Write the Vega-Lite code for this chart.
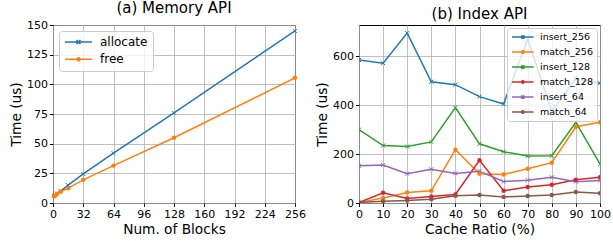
{
  "$schema": "https://vega.github.io/schema/vega-lite/v6.json",
  "padding": {"left": 9, "top": 0, "right": 1, "bottom": 0},
  "background": "white",
  "config": {
    "font": "DejaVu Sans",
    "view": {"stroke": "black", "strokeWidth": 1},
    "axis": {"grid": true, "gridColor": "#b0b0b0", "gridWidth": 0.8, "domain": false, "tickColor": "black", "tickSize": 3.5, "labelColor": "black", "labelFontSize": 11, "titleFontSize": 13.7, "titleFontWeight": "normal", "titleColor": "black", "labelPadding": 2, "titlePadding": 3, "labelFlush": false, "labelOverlap": false},
    "title": {"fontSize": 15, "fontWeight": "normal", "offset": 3, "color": "black"},
    "legend": {"title": null, "fillColor": "rgba(255,255,255,0.8)", "strokeColor": "#cccccc", "cornerRadius": 3, "symbolType": "M-1,0H4.4", "symbolStrokeWidth": 1.5, "labelColor": "black"},
    "concat": {"spacing": 64}
  },
  "bounds": "flush",
  "resolve": {"scale": {"color": "independent"}, "legend": {"color": "independent"}},
  "datasets": {
    "memory": [
      {"blocks": 1, "time": 6, "op": "allocate"},
      {"blocks": 2, "time": 7, "op": "allocate"},
      {"blocks": 4, "time": 8, "op": "allocate"},
      {"blocks": 8, "time": 10, "op": "allocate"},
      {"blocks": 16, "time": 15, "op": "allocate"},
      {"blocks": 32, "time": 24.5, "op": "allocate"},
      {"blocks": 64, "time": 42, "op": "allocate"},
      {"blocks": 128, "time": 76, "op": "allocate"},
      {"blocks": 256, "time": 145, "op": "allocate"},
      {"blocks": 1, "time": 5.5, "op": "free"},
      {"blocks": 2, "time": 6, "op": "free"},
      {"blocks": 4, "time": 7.5, "op": "free"},
      {"blocks": 8, "time": 9.5, "op": "free"},
      {"blocks": 16, "time": 12.5, "op": "free"},
      {"blocks": 32, "time": 19.5, "op": "free"},
      {"blocks": 64, "time": 31.5, "op": "free"},
      {"blocks": 128, "time": 55, "op": "free"},
      {"blocks": 256, "time": 105.5, "op": "free"}
    ],
    "index": [
      {"ratio": 0, "time": 585, "series": "insert_256"},
      {"ratio": 10, "time": 572, "series": "insert_256"},
      {"ratio": 20, "time": 695, "series": "insert_256"},
      {"ratio": 30, "time": 496, "series": "insert_256"},
      {"ratio": 40, "time": 484, "series": "insert_256"},
      {"ratio": 50, "time": 435, "series": "insert_256"},
      {"ratio": 60, "time": 405, "series": "insert_256"},
      {"ratio": 70, "time": 670, "series": "insert_256"},
      {"ratio": 80, "time": 375, "series": "insert_256"},
      {"ratio": 90, "time": 510, "series": "insert_256"},
      {"ratio": 100, "time": 490, "series": "insert_256"},
      {"ratio": 0, "time": 2, "series": "match_256"},
      {"ratio": 10, "time": 20, "series": "match_256"},
      {"ratio": 20, "time": 43, "series": "match_256"},
      {"ratio": 30, "time": 50, "series": "match_256"},
      {"ratio": 40, "time": 218, "series": "match_256"},
      {"ratio": 50, "time": 120, "series": "match_256"},
      {"ratio": 60, "time": 117, "series": "match_256"},
      {"ratio": 70, "time": 140, "series": "match_256"},
      {"ratio": 80, "time": 165, "series": "match_256"},
      {"ratio": 90, "time": 312, "series": "match_256"},
      {"ratio": 100, "time": 330, "series": "match_256"},
      {"ratio": 0, "time": 300, "series": "insert_128"},
      {"ratio": 10, "time": 235, "series": "insert_128"},
      {"ratio": 20, "time": 231, "series": "insert_128"},
      {"ratio": 30, "time": 250, "series": "insert_128"},
      {"ratio": 40, "time": 390, "series": "insert_128"},
      {"ratio": 50, "time": 242, "series": "insert_128"},
      {"ratio": 60, "time": 210, "series": "insert_128"},
      {"ratio": 70, "time": 192, "series": "insert_128"},
      {"ratio": 80, "time": 193, "series": "insert_128"},
      {"ratio": 90, "time": 330, "series": "insert_128"},
      {"ratio": 100, "time": 160, "series": "insert_128"},
      {"ratio": 0, "time": 2, "series": "match_128"},
      {"ratio": 10, "time": 42, "series": "match_128"},
      {"ratio": 20, "time": 18, "series": "match_128"},
      {"ratio": 30, "time": 27, "series": "match_128"},
      {"ratio": 40, "time": 35, "series": "match_128"},
      {"ratio": 50, "time": 175, "series": "match_128"},
      {"ratio": 60, "time": 50, "series": "match_128"},
      {"ratio": 70, "time": 65, "series": "match_128"},
      {"ratio": 80, "time": 75, "series": "match_128"},
      {"ratio": 90, "time": 95, "series": "match_128"},
      {"ratio": 100, "time": 105, "series": "match_128"},
      {"ratio": 0, "time": 152, "series": "insert_64"},
      {"ratio": 10, "time": 155, "series": "insert_64"},
      {"ratio": 20, "time": 120, "series": "insert_64"},
      {"ratio": 30, "time": 138, "series": "insert_64"},
      {"ratio": 40, "time": 121, "series": "insert_64"},
      {"ratio": 50, "time": 130, "series": "insert_64"},
      {"ratio": 60, "time": 88, "series": "insert_64"},
      {"ratio": 70, "time": 93, "series": "insert_64"},
      {"ratio": 80, "time": 105, "series": "insert_64"},
      {"ratio": 90, "time": 87, "series": "insert_64"},
      {"ratio": 100, "time": 92, "series": "insert_64"},
      {"ratio": 0, "time": 2, "series": "match_64"},
      {"ratio": 10, "time": 7, "series": "match_64"},
      {"ratio": 20, "time": 10, "series": "match_64"},
      {"ratio": 30, "time": 15, "series": "match_64"},
      {"ratio": 40, "time": 30, "series": "match_64"},
      {"ratio": 50, "time": 33, "series": "match_64"},
      {"ratio": 60, "time": 25, "series": "match_64"},
      {"ratio": 70, "time": 29, "series": "match_64"},
      {"ratio": 80, "time": 33, "series": "match_64"},
      {"ratio": 90, "time": 45, "series": "match_64"},
      {"ratio": 100, "time": 40, "series": "match_64"}
    ]
  },
  "hconcat": [
    {
      "width": 242,
      "height": 178,
      "title": "(a) Memory API",
      "data": {"name": "memory"},
      "encoding": {
        "x": {"field": "blocks", "type": "quantitative", "scale": {"domain": [0, 256], "nice": false}, "axis": {"values": [0, 32, 64, 96, 128, 160, 192, 224, 256], "title": "Num. of Blocks"}},
        "y": {"field": "time", "type": "quantitative", "scale": {"domain": [0, 150], "nice": false}, "axis": {"values": [0, 25, 50, 75, 100, 125, 150], "title": "Time (us)"}},
        "color": {"field": "op", "type": "nominal", "scale": {"domain": ["allocate", "free"], "range": ["#1f77b4", "#ff7f0e"]}, "legend": {"orient": "top-left", "offset": 6, "labelFontSize": 12, "rowPadding": 5.3, "padding": 5, "symbolSize": 100, "labelOffset": 24, "encode": {"symbols": {"update": {"shape": {"signal": "datum.value == 'free' ? 'M-1,0H4.4M2,0A0.3,0.3 0 1 1 1.4,0A0.3,0.3 0 1 1 2,0' : 'M-1,0H4.4M1.3,-0.4L2.1,0.4M1.3,0.4L2.1,-0.4'"}}}}}}
      },
      "layer": [
        {"mark": {"type": "line", "strokeWidth": 1.5, "clip": true}},
        {"transform": [{"filter": {"field": "op", "equal": "allocate"}}], "mark": {"type": "point", "shape": "M-1,-1L1,1M-1,1L1,-1", "filled": false, "size": 16, "strokeWidth": 1, "opacity": 1}},
        {"transform": [{"filter": {"field": "op", "equal": "free"}}], "mark": {"type": "circle", "size": 20, "opacity": 1}}
      ]
    },
    {
      "width": 241,
      "height": 178,
      "title": "(b) Index API",
      "data": {"name": "index"},
      "encoding": {
        "x": {"field": "ratio", "type": "quantitative", "scale": {"domain": [0, 100], "nice": false}, "axis": {"values": [0, 10, 20, 30, 40, 50, 60, 70, 80, 90, 100], "title": "Cache Ratio (%)"}},
        "y": {"field": "time", "type": "quantitative", "scale": {"domain": [0, 728], "nice": false}, "axis": {"values": [0, 200, 400, 600], "title": "Time (us)"}},
        "color": {"field": "series", "type": "nominal", "scale": {"domain": ["insert_256", "match_256", "insert_128", "match_128", "insert_64", "match_64"], "range": ["#1f77b4", "#ff7f0e", "#2ca02c", "#d62728", "#9467bd", "#8c564b"]}, "legend": {"orient": "top-right", "offset": 3, "labelFontSize": 9.5, "rowPadding": 5, "padding": 4, "symbolSize": 64, "labelOffset": 19, "encode": {"symbols": {"update": {"shape": {"signal": "indexof(datum.value, 'match') >= 0 ? 'M-1,0H4.4M2,0A0.3,0.3 0 1 1 1.4,0A0.3,0.3 0 1 1 2,0' : 'M-1,0H4.4M1.3,-0.4L2.1,0.4M1.3,0.4L2.1,-0.4'"}}}}}}
      },
      "layer": [
        {"mark": {"type": "line", "strokeWidth": 1.5, "clip": true}},
        {"transform": [{"filter": {"field": "series", "oneOf": ["insert_256", "insert_128", "insert_64"]}}], "mark": {"type": "point", "shape": "M-1,-1L1,1M-1,1L1,-1", "filled": false, "size": 16, "strokeWidth": 1, "opacity": 1, "clip": true}},
        {"transform": [{"filter": {"field": "series", "oneOf": ["match_256", "match_128", "match_64"]}}], "mark": {"type": "circle", "size": 20, "opacity": 1, "clip": true}}
      ]
    }
  ]
}
